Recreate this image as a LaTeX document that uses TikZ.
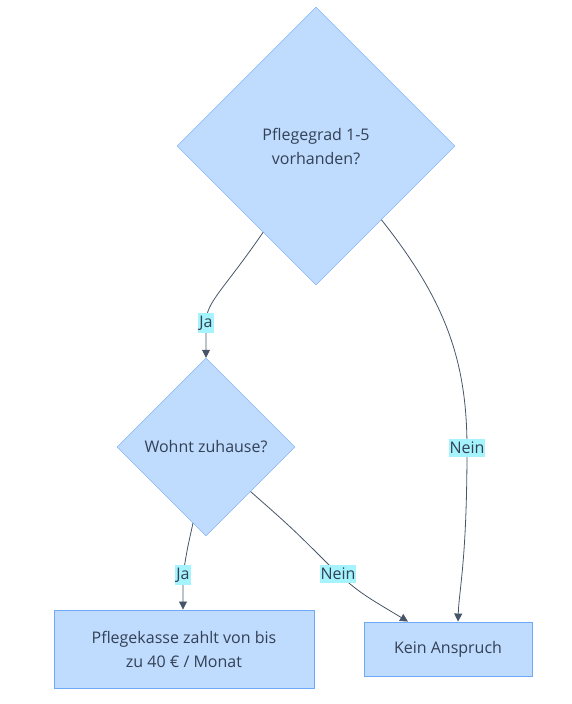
\documentclass[tikz,border=0pt]{standalone}
\usepackage{xcolor}
\usepackage{fontspec}
\setmainfont{Open Sans}
\usepackage{tikz}
\usetikzlibrary{shapes.geometric,arrows.meta,calc}

\definecolor{nodefill}{RGB}{191,219,254}
\definecolor{nodeline}{RGB}{110,170,245}
\definecolor{edgeline}{RGB}{71,85,105}
\definecolor{labelfill}{RGB}{165,243,252}
\definecolor{textcol}{RGB}{51,65,85}

\tikzset{
	frage/.style={diamond, aspect=1, draw=nodeline, fill=nodefill, inner sep=0pt, align=center, text=textcol},
	kasten/.style={rectangle, draw=nodeline, fill=nodefill, align=center, text=textcol, line width=0.9pt},
	flow/.style={draw=edgeline, line width=0.8pt, -{Triangle[length=8pt,width=8pt]}},
	lbl/.style={fill=labelfill, inner xsep=1pt, inner ysep=3pt, text=textcol}
}

\begin{document}
\begin{tikzpicture}[x=1pt, y=-1pt, font=\fontsize{16}{24}\selectfont]
	\useasboundingbox (0,0) rectangle (571,704);
	\node[frage, minimum size=278pt] (pflegegrad) at (316,146) {Pflegegrad 1-5\\ vorhanden?};
	\node[frage, minimum size=178pt] (zuhause) at (206,447) {Wohnt zuhause?};
	\node[kasten, minimum width=260pt, minimum height=78pt] (kasse) at (184,649) {Pflegekasse zahlt von bis\\zu 40 € / Monat};
	\node[kasten, minimum width=168pt, minimum height=54pt] (kein) at (448,649) {Kein Anspruch};
	\coordinate (ja1) at (206,323);
	\coordinate (nein1) at (467,448);
	\coordinate (ja2) at (183,575);
	\coordinate (nein2) at (338,574);
	\draw[flow] ($(pflegegrad.west)!0.62!(pflegegrad.south)$) .. controls (222,292) and (206,302) .. (ja1) -- (zuhause.north);
	\draw[flow] ($(pflegegrad.east)!0.53!(pflegegrad.south)$) .. controls (445,300) and (467,360) .. (nein1) .. controls (467,560) and (459,590) .. ([xshift=10pt]kein.north);
	\draw[flow] ($(zuhause.west)!0.854!(zuhause.south)$) .. controls (187,550) .. (ja2) -- ([xshift=-1pt]kasse.north);
	\draw[flow] (zuhause.south east) .. controls (292,528) .. (nein2) .. controls (362,594) .. ([xshift=-40pt]kein.north);
	\node[lbl] (lja1) at (ja1) {Ja};
	\node[lbl] (lnein1) at (nein1) {Nein};
	\node[lbl] (lja2) at (ja2) {Ja};
	\node[lbl] (lnein2) at (nein2) {Nein};
\end{tikzpicture}
\end{document}
